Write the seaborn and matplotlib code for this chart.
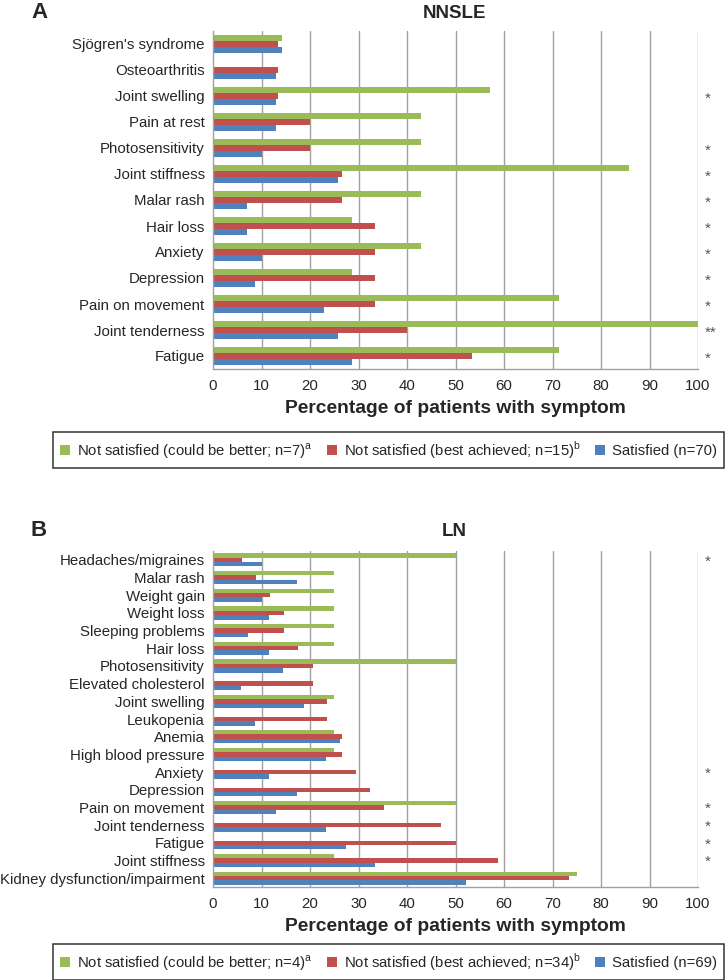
import numpy as np
import pandas as pd
import matplotlib
matplotlib.use("Agg")
import matplotlib.pyplot as plt
from matplotlib.patches import Patch
from matplotlib.transforms import blended_transform_factory
import seaborn as sns

sns.set_style("white")
plt.rcParams["font.family"] = ["Liberation Sans", "DejaVu Sans"]
plt.rcParams["mathtext.fontset"] = "custom"
plt.rcParams["mathtext.rm"] = "Liberation Sans"

# ---------------- data ----------------
groups = ["could_be_better", "best_achieved", "satisfied"]
colors = ["#9BBB59", "#C0504D", "#4F81BD"]

a_categories = ["Sjögren's syndrome", "Osteoarthritis", "Joint swelling", "Pain at rest",
                "Photosensitivity", "Joint stiffness", "Malar rash", "Hair loss", "Anxiety",
                "Depression", "Pain on movement", "Joint tenderness", "Fatigue"]
a_could_be_better = [14.3, 0, 57.1, 42.9, 42.9, 85.7, 42.9, 28.6, 42.9, 28.6, 71.4, 100, 71.4]
a_best_achieved = [13.3, 13.3, 13.3, 20.0, 20.0, 26.7, 26.7, 33.3, 33.3, 33.3, 33.3, 40.0, 53.3]
a_satisfied = [14.3, 12.9, 12.9, 12.9, 10.0, 25.7, 7.1, 7.1, 10.0, 8.6, 22.9, 25.7, 28.6]
a_signif = ["", "", "*", "", "*", "*", "*", "*", "*", "*", "*", "**", "*"]
a_legend = [r"Not satisfied (could be better; n=7)$^{\mathrm{a}}$",
            r"Not satisfied (best achieved; n=15)$^{\mathrm{b}}$",
            "Satisfied (n=70)"]

b_categories = ["Headaches/migraines", "Malar rash", "Weight gain", "Weight loss",
                "Sleeping problems", "Hair loss", "Photosensitivity", "Elevated cholesterol",
                "Joint swelling", "Leukopenia", "Anemia", "High blood pressure", "Anxiety",
                "Depression", "Pain on movement", "Joint tenderness", "Fatigue",
                "Joint stiffness", "Kidney dysfunction/impairment"]
b_could_be_better = [50, 25, 25, 25, 25, 25, 50, 0, 25, 0, 25, 25, 0, 0, 50, 0, 0, 25, 75]
b_best_achieved = [5.9, 8.8, 11.8, 14.7, 14.7, 17.6, 20.6, 20.6, 23.5, 23.5, 26.5, 26.5,
                   29.4, 32.4, 35.3, 47.1, 50.0, 58.8, 73.5]
b_satisfied = [10.1, 17.4, 10.1, 11.6, 7.2, 11.6, 14.5, 5.8, 18.8, 8.7, 26.1, 23.2,
               11.6, 17.4, 13.0, 23.2, 27.5, 33.3, 52.2]
b_signif = ["*", "", "", "", "", "", "", "", "", "", "", "", "*", "", "*", "*", "*", "*", ""]
b_legend = [r"Not satisfied (could be better; n=4)$^{\mathrm{a}}$",
            r"Not satisfied (best achieved; n=34)$^{\mathrm{b}}$",
            "Satisfied (n=69)"]

x_ticks = [0, 10, 20, 30, 40, 50, 60, 70, 80, 90, 100]
x_label = "Percentage of patients with symptom"


def long_frame(cats, series):
    rows = []
    for g, vals in zip(groups, series):
        for c, v in zip(cats, vals):
            rows.append({"cat": c, "group": g, "value": v})
    return pd.DataFrame(rows)


W, H = 727, 980
fig = plt.figure(figsize=(W / 100, H / 100), dpi=100)

GRID = "#a0a0a0"


def panel(rect, cats, series, signif, width, title, letter, letter_y, title_y):
    ax = fig.add_axes(rect)
    df = long_frame(cats, series)
    sns.barplot(data=df, y="cat", x="value", hue="group", hue_order=groups,
                order=cats, palette=colors, orient="h", width=width, saturation=1,
                legend=False, ax=ax, errorbar=None, linewidth=0)
    ax.set_xlim(0, 100)
    ax.set_ylim(len(cats) - 0.5, -0.5)
    ax.set_xticks(x_ticks)
    ax.set_xticklabels([str(t) for t in x_ticks], fontsize=10.8)
    ax.set_yticks(range(len(cats)))
    ax.set_yticklabels(cats, fontsize=10.8)
    ax.set_yticks(np.arange(-0.5, len(cats)), minor=True)
    ax.tick_params(axis="y", which="major", length=0, pad=6)
    ax.tick_params(axis="y", which="minor", length=4, color=GRID, width=1)
    ax.tick_params(axis="x", which="major", length=4, color=GRID, width=1, pad=3)
    ax.set_ylabel("")
    ax.set_xlabel(x_label, fontsize=13.9, fontweight="bold", labelpad=5)
    for x in x_ticks[1:]:
        ax.axvline(x, color=GRID, lw=1, zorder=0)
    for s in ["top", "right"]:
        ax.spines[s].set_visible(False)
    for s in ["left", "bottom"]:
        ax.spines[s].set_color(GRID)
        ax.spines[s].set_linewidth(1)
    ax.set_axisbelow(True)
    tr = blended_transform_factory(ax.transAxes, ax.transData)
    for i, s in enumerate(signif):
        if s:
            ax.text(1.015, i + 0.1, s, transform=tr, ha="left", va="center",
                    fontsize=11, color="#555555")
    fig.text(454 / W, 1 - title_y / H, title, ha="center", va="center",
             fontsize=13.5, fontweight="bold")
    fig.text(31 / W, 1 - letter_y / H, letter, ha="left", va="center",
             fontsize=16, fontweight="bold")
    return ax


axA = panel([213 / W, 1 - 369 / H, 485 / W, 338 / H], a_categories,
            [a_could_be_better, a_best_achieved, a_satisfied], a_signif, 0.66,
            "NNSLE", "A", 13, 13)
axB = panel([213 / W, 1 - 887 / H, 485 / W, 336 / H], b_categories,
            [b_could_be_better, b_best_achieved, b_satisfied], b_signif, 0.75,
            "LN", "B", 531, 532)


def legend(labels, yc):
    handles = [Patch(facecolor=c, edgecolor="none") for c in colors]
    leg = fig.legend(handles, labels, loc="center",
                     bbox_to_anchor=(388.5 / W, 1 - yc / H),
                     ncol=3, fontsize=10.7, frameon=True, fancybox=False,
                     handlelength=0.65, handleheight=0.65, handletextpad=0.45,
                     borderpad=0.5, borderaxespad=0, columnspacing=1.0)
    fr = leg.get_frame()
    fr.set_edgecolor("black")
    fr.set_linewidth(1.1)
    return leg


legend(a_legend, 450)
legend(b_legend, 962)

fig.savefig("out.png", dpi=100)
